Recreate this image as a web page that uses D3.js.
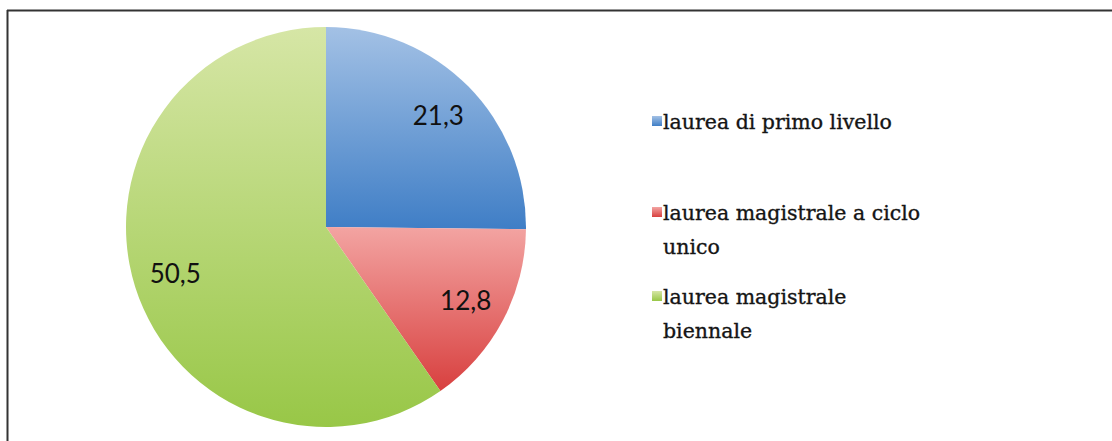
<!DOCTYPE html>
<html>
<head>
<meta charset="utf-8">
<script src="https://cdn.jsdelivr.net/npm/d3@7"></script>
<style>
  body { margin: 0; background: #fff; }
  svg { display: block; }
</style>
</head>
<body>
<div id="chart"></div>
<script>
// chart data
const categories = ["laurea di primo livello", "laurea magistrale a ciclo unico", "laurea magistrale biennale"];
const values = [21.3, 12.8, 50.5];
const labels = ["21,3", "12,8", "50,5"];
// legend lines as wrapped in the original
const legendLines = [["laurea di primo livello"], ["laurea magistrale a ciclo", "unico"], ["laurea magistrale", "biennale"]];
const gradTop = ["#a3c1e5", "#f3a4a2", "#d6e6a6"];
const gradBottom = ["#3f7ec6", "#d8403f", "#98c747"];

const W = 1112, H = 441;
const svg = d3.select("#chart").append("svg")
  .attr("width", W).attr("height", H);

// frame (top and left edge only)
svg.append("line").attr("x1", 7).attr("x2", W).attr("y1", 10.5).attr("y2", 10.5)
  .attr("stroke", "#333").attr("stroke-width", 2);
svg.append("line").attr("x1", 7.5).attr("x2", 7.5).attr("y1", 10).attr("y2", H)
  .attr("stroke", "#333").attr("stroke-width", 2);

const defs = svg.append("defs");
categories.forEach(function (c, i) {
  const g = defs.append("linearGradient").attr("id", "grad" + i)
    .attr("x1", 0).attr("y1", 0).attr("x2", 0).attr("y2", 1);
  g.append("stop").attr("offset", "0%").attr("stop-color", gradTop[i]);
  g.append("stop").attr("offset", "100%").attr("stop-color", gradBottom[i]);
});

const cx = 326, cy = 227, radius = 200;
const pie = d3.pie().sort(null).value(function (d) { return d; });
const arcs = pie(values);
const arc = d3.arc().innerRadius(0).outerRadius(radius);
const labelArc = d3.arc().innerRadius(158).outerRadius(158);

const g = svg.append("g").attr("transform", `translate(${cx},${cy})`);

g.selectAll("path.slice")
  .data(arcs)
  .enter().append("path")
  .attr("class", "slice")
  .attr("d", arc)
  .attr("fill", function (d, i) { return "url(#grad" + i + ")"; });

g.selectAll("text.lbl")
  .data(arcs)
  .enter().append("text")
  .attr("class", "lbl")
  .attr("transform", function (d) { return `translate(${labelArc.centroid(d)})`; })
  .attr("text-anchor", "middle")
  .attr("dy", "0.35em")
  .style("font-family", "Lato, 'Open Sans', sans-serif")
  .style("font-size", "26px")
  .style("fill", "#111")
  .text(function (d, i) { return labels[i]; });

// legend
const lineH = 34;
const legendTop = [122, 213, 297];
const item = svg.append("g").selectAll("g.item")
  .data(categories)
  .enter().append("g")
  .attr("class", "item")
  .attr("transform", function (d, i) { return `translate(652,${legendTop[i]})`; });

item.append("rect")
  .attr("x", 0).attr("y", -6)
  .attr("width", 10).attr("height", 10)
  .attr("fill", function (d, i) { return "url(#grad" + i + ")"; });

item.each(function (d, i) {
  const t = d3.select(this).append("text")
    .attr("x", 11)
    .attr("y", 0)
    .style("font-family", "'DejaVu Serif', serif")
    .style("font-size", "20.5px")
    .style("fill", "#151515")
    .style("stroke", "#151515")
    .style("stroke-width", 0.35);
  legendLines[i].forEach(function (ln, j) {
    t.append("tspan").attr("x", 11).attr("dy", j === 0 ? "0.35em" : lineH).text(ln);
  });
});
</script>
</body>
</html>
